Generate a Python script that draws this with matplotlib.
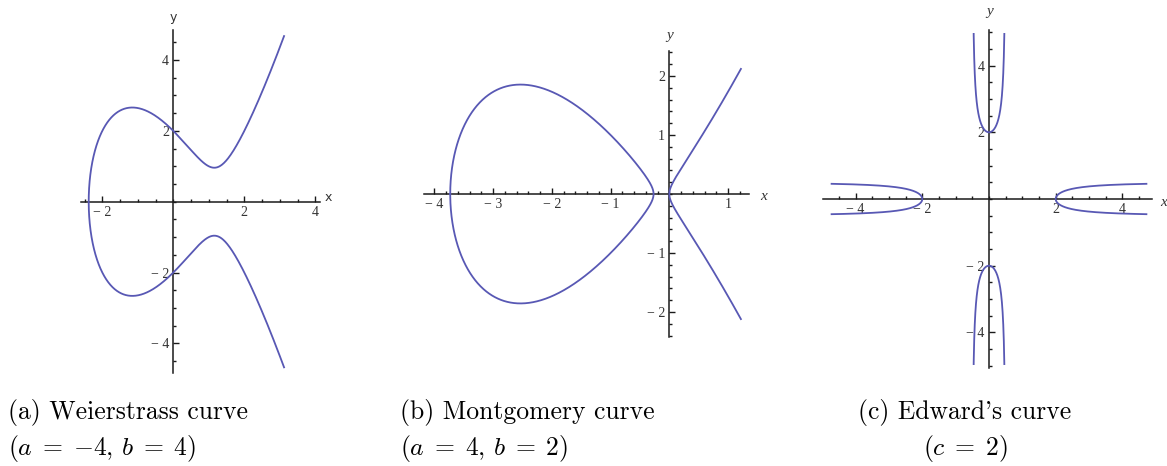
import numpy as np
import matplotlib
matplotlib.use("Agg")
import matplotlib.pyplot as plt
from matplotlib.ticker import FixedLocator, MultipleLocator

plt.rcParams['mathtext.fontset'] = 'cm'

W, H, DPI = 1167, 466, 100

# Curve parameters
weier_a, weier_b = -4, 4          # y^2 = x^3 + a x + b
mont_a, mont_b = 4, 2             # b y^2 = x^3 + a x^2 + x
edw_c = 2                         # x^2 + y^2 = c^2 (1 + x^2 y^2)

# Plotted extent of each curve
weier_xmax = 3.12
mont_xmax = 1.22
edw_xmax = 4.72
edw_ymax = 4.95

# Tick values
weier_xticks = [-2, 2, 4]
weier_yticks = [-4, -2, 2, 4]
mont_xticks = [-4, -3, -2, -1, 1]
mont_yticks = [-2, -1, 1, 2]
edw_xticks = [-4, -2, 2, 4]
edw_yticks = [-4, -2, 2, 4]

captions_line1 = ["(a) Weierstrass curve", "(b) Montgomery curve", "(c) Edward's curve"]
captions_line2 = [r"$(a\;=\;{-4},\,b\;=\;4)$", r"$(a\;=\;4,\,b\;=\;2)$", r"$(c\;=\;2)$"]

CURVE_COLOR = "#5858b4"
AXIS_COLOR = "#1a1a1a"
LABEL_COLOR = "#333333"


def weierstrass_curve(a, b, xmax, n=800):
    roots = np.roots([1, 0, a, b])
    r = roots[np.abs(roots.imag) < 1e-9].real.min()
    t = np.linspace(0, 1, n)
    x = r + (xmax - r) * t ** 2
    y = np.sqrt(np.clip(x ** 3 + a * x + b, 0, None))
    return np.concatenate([x[::-1], x[1:]]), np.concatenate([y[::-1], -y[1:]])


def montgomery_curve(a, b, xmax, n=800):
    f = lambda x: np.clip((x ** 3 + a * x ** 2 + x) / b, 0, None)
    r1, r2 = sorted(np.roots([1, a, 1]).real)
    th = np.linspace(0, 2 * np.pi, 2 * n)
    lx = r1 + (r2 - r1) * (1 - np.cos(th)) / 2
    ly = np.sign(np.sin(th)) * np.sqrt(f(lx))
    t = np.linspace(0, 1, n)
    bx = xmax * t ** 2
    by = np.sqrt(f(bx))
    branch_x = np.concatenate([bx[::-1], bx[1:]])
    branch_y = np.concatenate([by[::-1], -by[1:]])
    return (lx, ly), (branch_x, branch_y)


def edwards_branches(c, xmax, ymax, n=800):
    t = np.linspace(0, 1, n)
    out = []
    # horizontal branches
    x = c + (xmax - c) * t ** 2
    y = np.sqrt(np.clip((x ** 2 - c ** 2) / (c ** 2 * x ** 2 - 1), 0, None))
    hx = np.concatenate([x[::-1], x[1:]])
    hy = np.concatenate([y[::-1], -y[1:]])
    out.append((hx, hy))
    out.append((-hx, hy))
    # vertical branches
    yv = c + (ymax - c) * t ** 2
    xv = np.sqrt(np.clip((yv ** 2 - c ** 2) / (c ** 2 * yv ** 2 - 1), 0, None))
    vy = np.concatenate([yv[::-1], yv[1:]])
    vx = np.concatenate([xv[::-1], -xv[1:]])
    out.append((vx, vy))
    out.append((vx, -vy))
    return out


def tick_text(v):
    return ("\u2212 %g" % abs(v)) if v < 0 else "%g" % v


def place_axes(fig, origin, scale, xlim, ylim):
    ox, oy = origin
    sx, sy = scale
    x0, x1 = ox + xlim[0] * sx, ox + xlim[1] * sx
    ytop, ybot = oy - ylim[1] * sy, oy - ylim[0] * sy
    ax = fig.add_axes([x0 / W, 1 - ybot / H, (x1 - x0) / W, (ybot - ytop) / H])
    ax.set_xlim(xlim)
    ax.set_ylim(ylim)
    return ax


def style_axes(ax, xticks, yticks, minor):
    ax.patch.set_alpha(0)
    for s in ("top", "right"):
        ax.spines[s].set_visible(False)
    for s in ("left", "bottom"):
        ax.spines[s].set_position(("data", 0))
        ax.spines[s].set_color(AXIS_COLOR)
        ax.spines[s].set_linewidth(1.1)
    ax.xaxis.set_major_locator(FixedLocator(xticks))
    ax.yaxis.set_major_locator(FixedLocator(yticks))
    ax.xaxis.set_minor_locator(MultipleLocator(minor))
    ax.yaxis.set_minor_locator(MultipleLocator(minor))
    ax.set_xticklabels([tick_text(v) for v in xticks])
    ax.set_yticklabels([tick_text(v) for v in yticks])
    ax.tick_params(which="both", direction="in", color=AXIS_COLOR, width=1.0)
    ax.tick_params(which="major", length=4.5, pad=3, labelsize=10, labelcolor=LABEL_COLOR)
    ax.tick_params(which="minor", length=2.5)
    for lab in ax.get_xticklabels() + ax.get_yticklabels():
        lab.set_fontfamily("Liberation Serif")


def px_text(fig, x, y, s, **kw):
    fig.text(x / W, 1 - y / H, s, **kw)


fig = plt.figure(figsize=(W / DPI, H / DPI), dpi=DPI)

# (a) Weierstrass
ax1 = place_axes(fig, (173.3, 201.7), (35.5, 35.4), (-2.61, 4.13), (-4.85, 4.85))
style_axes(ax1, weier_xticks, weier_yticks, 0.5)
wx, wy = weierstrass_curve(weier_a, weier_b, weier_xmax)
ax1.plot(wx, wy, color=CURVE_COLOR, lw=1.3, zorder=3)
px_text(fig, 173.5, 17, "y", family="DejaVu Sans", fontsize=9, color=LABEL_COLOR, ha="center", va="center")
px_text(fig, 328, 198, "x", family="DejaVu Sans", fontsize=9, color=LABEL_COLOR, ha="center", va="center")

# (b) Montgomery
ax2 = place_axes(fig, (669.3, 194.0), (58.7, 59.0), (-4.18, 1.36), (-2.42, 2.42))
style_axes(ax2, mont_xticks, mont_yticks, 0.2)
(lx, ly), (bx, by) = montgomery_curve(mont_a, mont_b, mont_xmax)
ax2.plot(lx, ly, color=CURVE_COLOR, lw=1.3, zorder=3)
ax2.plot(bx, by, color=CURVE_COLOR, lw=1.3, zorder=3)
px_text(fig, 669.5, 35, "y", family="Liberation Serif", style="italic", fontsize=11, color=LABEL_COLOR, ha="center", va="center")
px_text(fig, 764, 196, "x", family="Liberation Serif", style="italic", fontsize=11, color=LABEL_COLOR, ha="center", va="center")

# (c) Edwards
ax3 = place_axes(fig, (989.0, 199.0), (33.35, 33.35), (-4.98, 4.9), (-5.07, 5.07))
style_axes(ax3, edw_xticks, edw_yticks, 0.5)
for ex, ey in edwards_branches(edw_c, edw_xmax, edw_ymax):
    ax3.plot(ex, ey, color=CURVE_COLOR, lw=1.3, zorder=3)
px_text(fig, 989.5, 12, "y", family="Liberation Serif", style="italic", fontsize=11, color=LABEL_COLOR, ha="center", va="center")
px_text(fig, 1164, 202, "x", family="Liberation Serif", style="italic", fontsize=11, color=LABEL_COLOR, ha="center", va="center")

# Captions
cap_size = 18.5
cap_family = ["cmr10", "DejaVu Serif"]
px_text(fig, 8, 412, captions_line1[0], family=cap_family, fontsize=cap_size, ha="left", va="center")
px_text(fig, 8, 448, captions_line2[0], fontsize=cap_size, ha="left", va="center")
px_text(fig, 400, 412, captions_line1[1], family=cap_family, fontsize=cap_size, ha="left", va="center")
px_text(fig, 400, 448, captions_line2[1], fontsize=cap_size, ha="left", va="center")
px_text(fig, 965, 412, captions_line1[2], family=cap_family, fontsize=cap_size, ha="center", va="center")
px_text(fig, 965, 448, captions_line2[2], fontsize=cap_size, ha="center", va="center")

fig.savefig("out.png", dpi=DPI)
